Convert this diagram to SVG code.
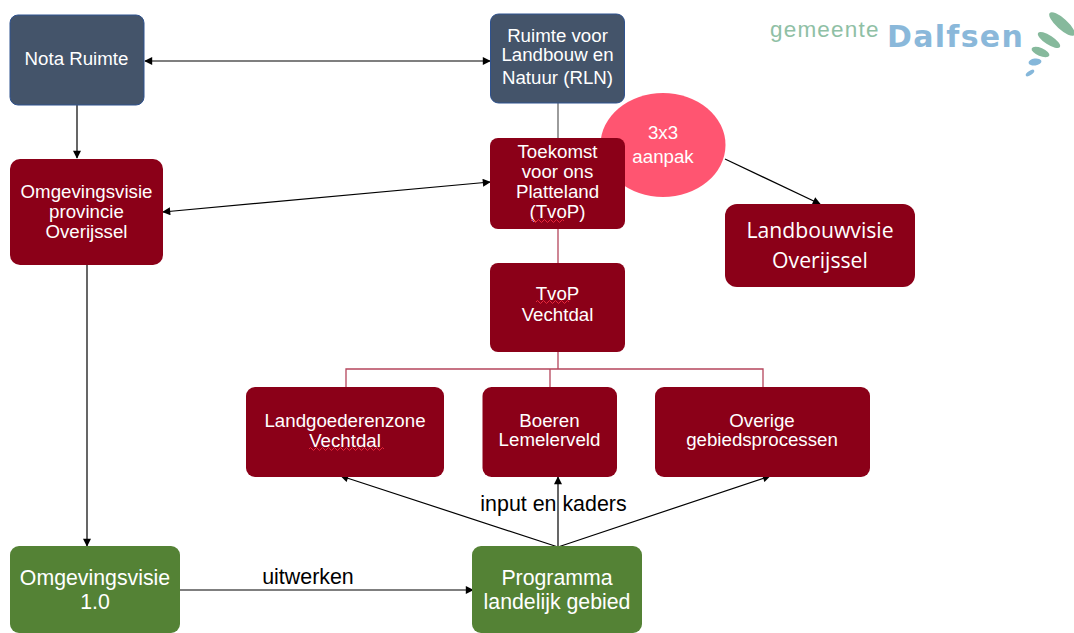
<svg xmlns="http://www.w3.org/2000/svg" width="1074" height="633" viewBox="0 0 1074 633">
<style>
text{font-family:"Liberation Sans",Arial,sans-serif;text-anchor:middle}
.t{fill:#fff;font-size:18.700px}
.blue{fill:#44546a;stroke:#2f528f;stroke-width:1}
.red{fill:#8b0018}
.green{fill:#548235}
.c{fill:none;stroke:#000;stroke-width:1.2}
.tree{fill:none;stroke:#b5455c;stroke-width:1.3}
.sq{fill:none;stroke:#e8283c;stroke-width:1}
.lab{fill:#000;font-size:21.400px}
</style>
<defs>
<marker id="a" markerUnits="userSpaceOnUse" viewBox="0 0 10 10" refX="9" refY="5" markerWidth="10" markerHeight="8" orient="auto-start-reverse"><path d="M0 0L10 5L0 10z" fill="#000"/></marker>
</defs>
<rect width="1074" height="633" fill="#fff"/>
<g id="connectors">
<line class="c" x1="145" y1="61" x2="490" y2="61" marker-start="url(#a)" marker-end="url(#a)"/>
<line class="c" x1="77" y1="105" x2="77" y2="158" marker-end="url(#a)"/>
<line x1="558" y1="103" x2="558" y2="139" stroke="#666" stroke-width="1.3"/>
<line class="c" x1="163" y1="212" x2="490" y2="182" marker-start="url(#a)" marker-end="url(#a)"/>
<line class="c" x1="725" y1="159" x2="820" y2="204" marker-end="url(#a)"/>
<path class="tree" d="M558 228V264M558 352V369M346 387V369H763V387M550 369V387"/>
<line class="c" x1="87" y1="265" x2="87" y2="546" marker-end="url(#a)"/>
<line class="c" x1="180" y1="590" x2="473" y2="590" marker-end="url(#a)"/>
<line class="c" x1="558" y1="547" x2="341" y2="476" marker-end="url(#a)"/>
<line class="c" x1="558" y1="547" x2="558" y2="477" stroke-width="1.4" marker-end="url(#a)"/>
<line class="c" x1="558" y1="547" x2="770" y2="476" marker-end="url(#a)"/>
</g>
<g id="nota-ruimte"><rect class="blue" x="10" y="15" width="134" height="90" rx="8"/><text class="t" x="76.500" y="65">Nota Ruimte</text></g>
<g id="rln"><rect class="blue" x="490.500" y="14" width="134" height="89" rx="8"/><text class="t" x="557.500" y="42">Ruimte voor</text><text class="t" x="557.500" y="61">Landbouw en</text><text class="t" x="557.500" y="84">Natuur (RLN)</text></g>
<g id="aanpak"><ellipse cx="663" cy="145" rx="62.500" ry="52" fill="#ff5571"/><text class="t" x="663" y="139">3x3</text><text class="t" x="663" y="163">aanpak</text></g>
<g id="tvop"><rect class="red" x="490" y="138" width="135" height="91" rx="8"/><text class="t" x="557.500" y="158">Toekomst</text><text class="t" x="557.500" y="178">voor ons</text><text class="t" x="557.500" y="198">Platteland</text><text class="t" x="557.500" y="218">(TvoP)</text><path class="sq" d="M531 221q1.500 -3 3 0t3 0t3 0t3 0t3 0t3 0t3 0t3 0t3 0t3 0t3 0"/></g>
<g id="omgevingsvisie-overijssel"><rect class="red" x="10" y="159" width="153" height="106" rx="10"/><text class="t" x="86.500" y="198">Omgevingsvisie</text><text class="t" x="86.500" y="218">provincie</text><text class="t" x="86.500" y="238">Overijssel</text></g>
<g id="landbouwvisie"><rect class="red" x="725" y="204" width="190" height="83" rx="12"/><text x="820" y="238" fill="#fff" font-size="21.200" style="font-family:'Open Sans','Liberation Sans',sans-serif">Landbouwvisie</text><text x="820" y="268" fill="#fff" font-size="21.200" style="font-family:'Open Sans','Liberation Sans',sans-serif">Overijssel</text></g>
<g id="tvop-vechtdal"><rect class="red" x="490" y="263" width="135" height="89" rx="8"/><text class="t" x="557.500" y="300">TvoP</text><text class="t" x="557.500" y="321">Vechtdal</text><path class="sq" d="M536 302q1.500 -3 3 0t3 0t3 0t3 0t3 0t3 0t3 0t3 0t3 0t3 0t3 0"/></g>
<g id="landgoederenzone"><rect class="red" x="246" y="387" width="198" height="90" rx="9"/><text class="t" x="345" y="427">Landgoederenzone</text><text class="t" x="345" y="447">Vechtdal</text><path class="sq" d="M309 449q1.500 -3 3 0t3 0t3 0t3 0t3 0t3 0t3 0t3 0t3 0t3 0t3 0t3 0t3 0t3 0t3 0t3 0t3 0t3 0t3 0t3 0t3 0t3 0t3 0t3 0t3 0"/></g>
<g id="boeren"><rect class="red" x="482.500" y="387" width="134.500" height="90" rx="9"/><text class="t" x="549.500" y="427">Boeren</text><text class="t" x="549.500" y="446">Lemelerveld</text></g>
<g id="overige"><rect class="red" x="655" y="387" width="215" height="90" rx="9"/><text class="t" x="762" y="427">Overige</text><text class="t" x="762" y="446">gebiedsprocessen</text></g>
<g id="omgevingsvisie-1"><rect class="green" x="10" y="546" width="170" height="87" rx="9"/><text class="t" x="95" y="585" style="font-size:21.300px">Omgevingsvisie</text><text class="t" x="95" y="609" style="font-size:21.300px">1.0</text></g>
<g id="programma"><rect class="green" x="472" y="546" width="170" height="87" rx="9"/><text class="t" x="557" y="585" style="font-size:21.300px">Programma</text><text class="t" x="557" y="609" style="font-size:21.300px">landelijk gebied</text></g>
<text class="lab" x="308" y="584">uitwerken</text>
<text class="lab" x="553.500" y="511">input en kaders</text>
<g id="logo">
<text x="770" y="37" font-size="22.500" fill="#8fc0a5" style="text-anchor:start;letter-spacing:1.200px">gemeente</text>
<text x="887" y="47" font-size="30" font-weight="bold" fill="#8ab8da" style="text-anchor:start;letter-spacing:1.300px;font-family:'DejaVu Sans','Liberation Sans',sans-serif">Dalfsen</text>
<ellipse cx="1062" cy="24" rx="16.500" ry="5.500" fill="#86b99c" transform="rotate(42 1062 24)"/>
<ellipse cx="1049" cy="40" rx="13" ry="4.500" fill="#86b99c" transform="rotate(33 1049 40)"/>
<ellipse cx="1040.500" cy="52" rx="9.500" ry="4" fill="#86b99c" transform="rotate(22 1040.500 52)"/>
<ellipse cx="1035" cy="62" rx="6.500" ry="3.500" fill="#85b7da" transform="rotate(-8 1035 62)"/>
<ellipse cx="1030" cy="73" rx="5" ry="2" fill="#85b7da" transform="rotate(-35 1030 73)"/>
</g>
</svg>
